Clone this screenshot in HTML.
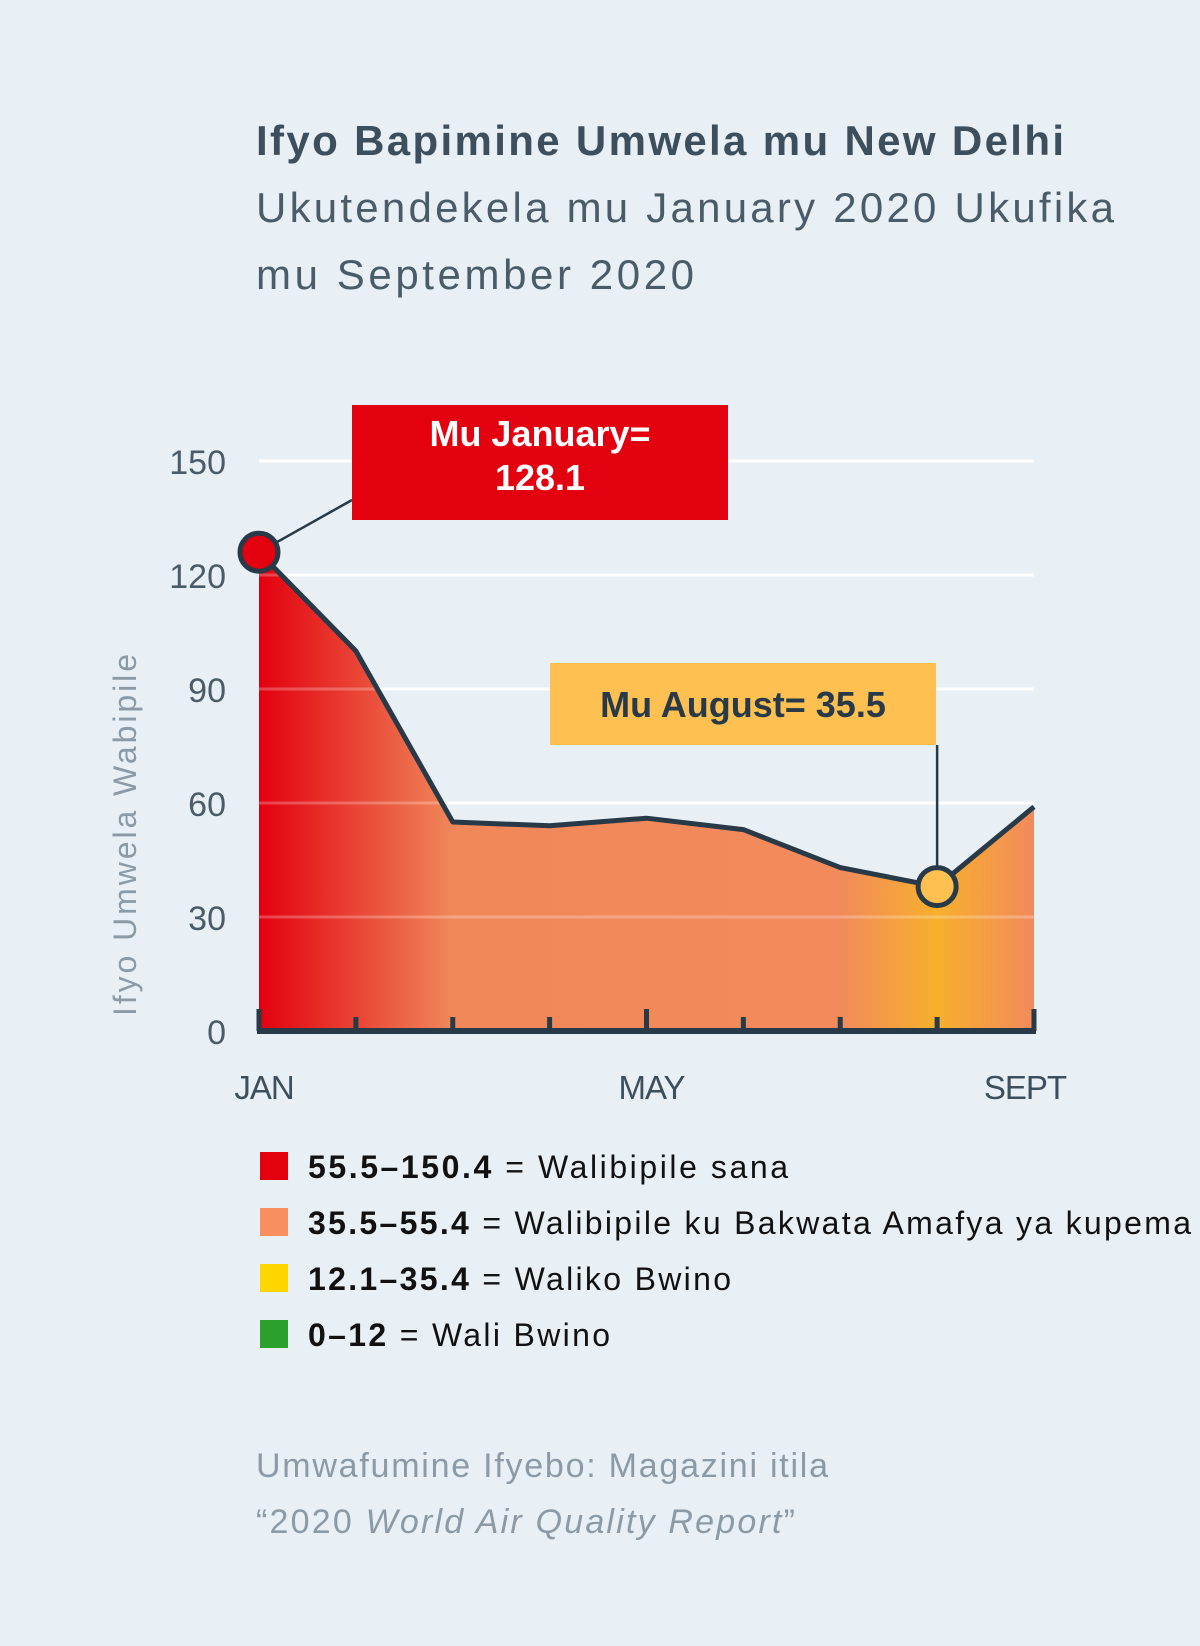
<!DOCTYPE html>
<html><head><meta charset="utf-8"><style>
html,body{margin:0;padding:0;background:#e8eff5;}
svg{display:block;font-family:"Liberation Sans",sans-serif;}
</style></head><body>
<svg width="1200" height="1646" viewBox="0 0 1200 1646" id="chart">
<defs>
<linearGradient id="areaGrad" x1="259" y1="0" x2="1034" y2="0" gradientUnits="userSpaceOnUse">
<stop offset="0" stop-color="#e3000f"/>
<stop offset="0.25" stop-color="#f0885a"/>
<stop offset="0.75" stop-color="#f28a5c"/>
<stop offset="0.875" stop-color="#f7b02c"/>
<stop offset="1" stop-color="#f28a5c"/>
</linearGradient>
</defs>
<rect width="1200" height="1646" fill="#e8eff5"/>
<text x="256" y="155" font-size="42" font-weight="bold" fill="#3d4f5c" textLength="808" lengthAdjust="spacing">Ifyo Bapimine Umwela mu New Delhi</text>
<text x="256" y="222" font-size="42" fill="#4a5c68" textLength="858" lengthAdjust="spacing">Ukutendekela mu January 2020 Ukufika</text>
<text x="256" y="289" font-size="42" fill="#4a5c68" textLength="438" lengthAdjust="spacing">mu September 2020</text>
<g id="grid"></g>
<g id="plot"></g>
<text transform="translate(136,835) rotate(-90)" text-anchor="middle" font-size="32" fill="#8c9aa5" textLength="362" lengthAdjust="spacing">Ifyo Umwela Wabipile</text>
<g id="ann"></g>
<g id="legend"></g>
<text x="256" y="1477" font-size="34" fill="#8c9aa5" textLength="572" lengthAdjust="spacing">Umwafumine Ifyebo: Magazini itila</text>
<text x="256" y="1533" font-size="34" fill="#8c9aa5" textLength="539" lengthAdjust="spacing">“2020 <tspan font-style="italic">World Air Quality Report</tspan>”</text>
</svg>
<script>
const months = ["JAN","FEB","MAR","APR","MAY","JUN","JUL","AUG","SEPT"];
const values = [126, 100, 55, 54, 56, 53, 43, 38, 59];
const yTicks = [0, 30, 60, 90, 120, 150];
const xLabels = {0:"JAN", 4:"MAY", 8:"SEPT"};
const legendRanges = ["55.5–150.4","35.5–55.4","12.1–35.4","0–12"];
const legendLabels = [" = Walibipile sana"," = Walibipile ku Bakwata Amafya ya kupema"," = Waliko Bwino"," = Wali Bwino"];
const legendColors = ["#e3000f","#f88f61","#ffd600","#2ca02c"];
const legendWidths = [480, 883, 423, 302];
const NS="http://www.w3.org/2000/svg";
const X0=259,X1=1034,Y0=1031,YTOP=461;
const x=i=>X0+(X1-X0)*i/(months.length-1);
const y=v=>Y0-(Y0-YTOP)*v/150;
function mk(tag,attrs,parent){const e=document.createElementNS(NS,tag);for(const k in attrs)e.setAttribute(k,attrs[k]);parent.appendChild(e);return e;}
const grid=document.getElementById('grid'),plot=document.getElementById('plot'),ann=document.getElementById('ann'),leg=document.getElementById('legend');
yTicks.forEach(t=>{
  if(t>0){const l=mk('line',{x1:X0,x2:X1,y1:y(t),y2:y(t),stroke:'#ffffff','stroke-width':3},grid);
  
  }
  const tx=mk('text',{x:226,y:y(t)+13,'text-anchor':'end','font-size':34,fill:'#4a5c68'},grid);
  tx.textContent=t;
  
  
});
let d='M'+x(0)+','+Y0;values.forEach((v,i)=>d+=' L'+x(i)+','+y(v));d+=' L'+x(values.length-1)+','+Y0+' Z';
const area=mk('path',{d:d,fill:'url(#areaGrad)'},plot);


yTicks.forEach(t=>{if(t>0){const l=mk('line',{x1:X0,x2:X1,y1:y(t),y2:y(t),stroke:'#ffffff','stroke-opacity':0.25,'stroke-width':3},plot);

}});
let ld='';values.forEach((v,i)=>ld+=(i?' L':'M')+x(i)+','+y(v));
const line=mk('path',{d:ld,fill:'none',stroke:'#283a47','stroke-width':5,'stroke-linejoin':'round'},plot);


const ax=mk('line',{x1:X0-2,x2:X1+2,y1:Y0,y2:Y0,stroke:'#283a47','stroke-width':6},plot);


months.forEach((m,i)=>{
  const big=(i%4===0);
  const tk=mk('line',{x1:x(i),x2:x(i),y1:Y0-(big?22:14),y2:Y0,stroke:'#283a47','stroke-width':5},plot);
  
  
  if(xLabels[i]){const t=mk('text',{x:x(i)+(i===8?-9:5),y:1099,'text-anchor':'middle','font-size':33,fill:'#3d4f5c','letter-spacing':'-1'},plot);
  t.textContent=xLabels[i];
  
  }
});
const jx=x(0),jy=y(values[0]),ax2=x(7),ay=y(values[7]);
const c1=mk('line',{x1:jx,y1:jy,x2:352,y2:500,stroke:'#283a47','stroke-width':2.5},ann);


const c2=mk('line',{x1:ax2,y1:ay,x2:ax2,y2:745,stroke:'#283a47','stroke-width':2.5},ann);


const b1=mk('rect',{x:352,y:405,width:376,height:115,fill:'#e3000f'},ann);


const t1=mk('text',{x:540,y:446,'text-anchor':'middle','font-size':36,'font-weight':'bold',fill:'#fff'},ann);t1.textContent='Mu January=';


const t1b=mk('text',{x:540,y:490,'text-anchor':'middle','font-size':36,'font-weight':'bold',fill:'#fff'},ann);t1b.textContent='128.1';


const b2=mk('rect',{x:550,y:663,width:386,height:82,fill:'#fec050'},ann);


const t2=mk('text',{x:743,y:717,'text-anchor':'middle','font-size':36,'font-weight':'bold',fill:'#283a47'},ann);t2.textContent='Mu August= 35.5';


const m1=mk('circle',{cx:jx,cy:jy,r:19,fill:'#e3000f',stroke:'#283a47','stroke-width':5},ann);


const m2=mk('circle',{cx:ax2,cy:ay,r:19,fill:'#fec050',stroke:'#283a47','stroke-width':5},ann);


legendRanges.forEach((r,i)=>{
  const cy=1166+56*i;
  const sq=mk('rect',{x:260,y:cy-14,width:28,height:28,fill:legendColors[i]},leg);
  
  
  const t=mk('text',{x:308,y:cy+12,'font-size':32,fill:'#111',textLength:legendWidths[i],lengthAdjust:'spacing'},leg);
  
  
  const b=mk('tspan',{'font-weight':'bold'},t);b.textContent=r;
  const n=mk('tspan',{},t);n.textContent=legendLabels[i];
});
</script>
</body></html>
